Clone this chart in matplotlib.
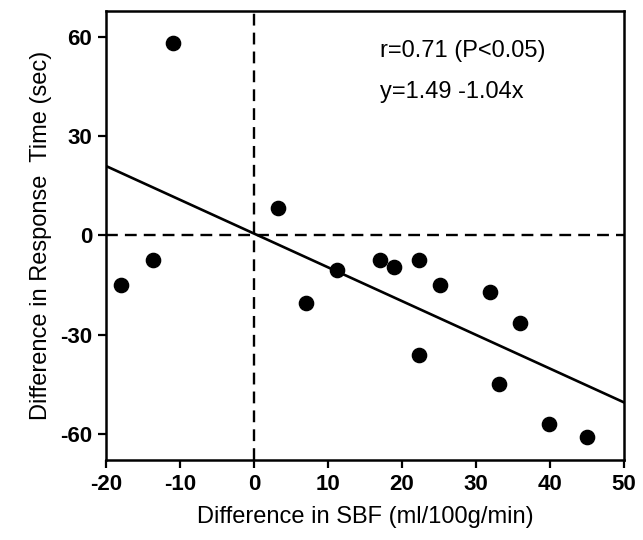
import matplotlib
matplotlib.use("Agg")
import matplotlib.pyplot as plt

# values
sbf_diff = [-18.0, -13.7, -11.0, 3.2, 7.1, 11.2, 17.1, 19.0, 22.3, 22.3,
            25.1, 31.9, 33.2, 36.0, 39.9, 45.1]
rt_diff = [-15.0, -7.4, 58.2, 8.3, -20.5, -10.6, -7.4, -9.6, -7.5, -36.2,
           -15.0, -17.0, -44.9, -26.6, -57.1, -60.9]

fit_x = [-20, 50]
fit_y = [21.0, -50.5]

x_ticks = [-20, -10, 0, 10, 20, 30, 40, 50]
y_ticks = [-60, -30, 0, 30, 60]

plt.rcParams["font.family"] = ["Liberation Sans", "DejaVu Sans"]
plt.rcParams["axes.unicode_minus"] = False

fig = plt.figure(figsize=(6.43, 5.4), dpi=100)
ax = fig.add_axes([0.165, 0.148, 0.805, 0.832])

ax.axhline(0, color="black", lw=1.7, ls=(0, (5, 3)), zorder=1)
ax.axvline(0, color="black", lw=1.7, ls=(0, (5, 3)), zorder=1)
ax.plot(fit_x, fit_y, color="black", lw=1.9, zorder=2)
ax.scatter(sbf_diff, rt_diff, s=105, color="black", zorder=3)

ax.set_xlim(-20, 50)
ax.set_ylim(-68, 68)
ax.set_xticks(x_ticks)
ax.set_yticks(y_ticks)
ax.tick_params(direction="out", length=6, width=1.6, labelsize=16, pad=4)
for lbl in ax.get_xticklabels() + ax.get_yticklabels():
    lbl.set_fontweight("bold")
for sp in ax.spines.values():
    sp.set_linewidth(1.8)

ax.set_xlabel("Difference in SBF (ml/100g/min)", fontsize=17, labelpad=8)
ax.set_ylabel("Difference in Response  Time (sec)", fontsize=17, labelpad=6)

ax.text(0.53, 0.911, "r=0.71 (P<0.05)", transform=ax.transAxes,
        fontsize=17, va="center")
ax.text(0.53, 0.82, "y=1.49 -1.04x", transform=ax.transAxes,
        fontsize=17, va="center")

fig.savefig("out.png", dpi=100)
